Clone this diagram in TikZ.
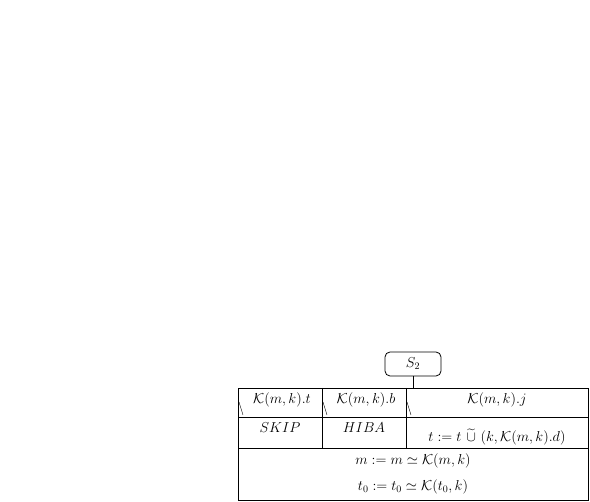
\documentclass[tikz,border=0pt]{standalone}
\usepackage{amsmath,amssymb}
\begin{document}
\begin{tikzpicture}[x=1pt,y=-1pt,
  frame/.style={draw=black,line width=0.8pt},
  lbl/.style={inner sep=0pt,font=\fontsize{14.5}{17}\selectfont},
  startbox/.style={draw=black,line width=0.8pt,rounded corners=5pt,minimum width=56pt,minimum height=24pt,inner sep=0pt,font=\fontsize{14.5}{17}\selectfont}]
\useasboundingbox (0,0) rectangle (590,502);
% start node
\node[startbox] (s2) at (413,364) {$S_2$};
\coordinate (tabtop) at (413,388);
\draw[frame] (s2.south) -- (tabtop);
% table frame
\coordinate (tl) at (238,388);
\coordinate (br) at (588,500);
\draw[frame] (tl) rectangle (br);
\draw[frame] (238,417) -- (588,417);
\draw[frame] (238,448) -- (588,448);
\draw[frame] (322,388) -- (322,448);
\draw[frame] (406,388) -- (406,448);
% small slashes
\draw[line width=0.4pt] (239,402) -- (243,415);
\draw[line width=0.4pt] (323,402) -- (327,415);
\draw[line width=0.4pt] (407,402) -- (411,415);
% labels
\node[lbl] (c1) at (282,400) {$\mathcal{K}(m,k).t$};
\node[lbl] (c2) at (366,400) {$\mathcal{K}(m,k).b$};
\node[lbl] (c3) at (497,400) {$\mathcal{K}(m,k).j$};
\node[lbl] (a1) at (280,428) {$SKIP$};
\node[lbl] (a2) at (364,428) {$HIBA$};
\node[lbl] (a3) at (497,437) {$t := t\ \widetilde{\cup}\ (k,\mathcal{K}(m,k).d)$};
\node[lbl] (b1) at (413,461) {$m := m \simeq \mathcal{K}(m,k)$};
\node[lbl] (b2) at (413,487) {$t_0 := t_0 \simeq \mathcal{K}(t_0,k)$};
\end{tikzpicture}
\end{document}
